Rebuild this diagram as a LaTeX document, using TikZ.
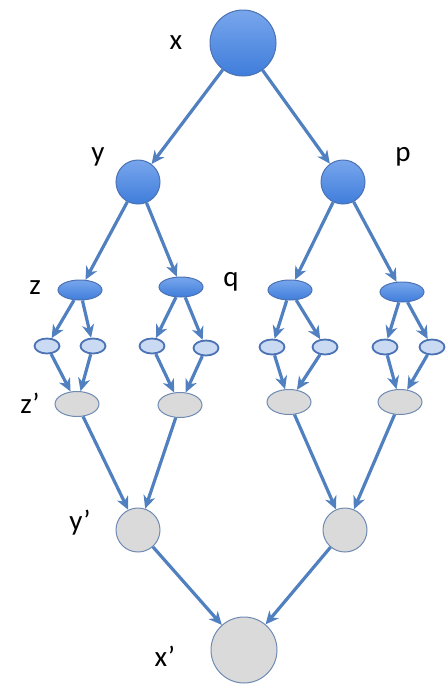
\documentclass[tikz,border=0pt]{standalone}
\usepackage{fontspec}
\setmainfont{Carlito}
\usepackage{xcolor}
\usetikzlibrary{arrows.meta,shapes.geometric}
\definecolor{blueA}{HTML}{3F7DDB}
\definecolor{blueB}{HTML}{78A6EC}
\definecolor{rimblue}{HTML}{4A72B4}
\definecolor{edgeblue}{HTML}{5080C0}
\definecolor{paleblue}{HTML}{C9DAF2}
\definecolor{greyfill}{HTML}{DADADA}
\definecolor{greyrim}{HTML}{6F8BB3}

\begin{document}
\begin{tikzpicture}[x=1pt,y=-1pt,>={Stealth[length=13pt,width=12pt,inset=4pt]},
every node/.style={font=\fontsize{29}{32}\selectfont},
bluenode/.style={draw=rimblue,line width=1pt,top color=blueB,bottom color=blueA},
bigc/.style={bluenode,circle,minimum size=66pt,inner sep=0pt},
midc/.style={bluenode,circle,minimum size=44pt,inner sep=0pt},
blueell/.style={bluenode,ellipse,minimum width=44pt,minimum height=20pt,inner sep=0pt},
smallell/.style={ellipse,draw=rimblue,line width=1.8pt,fill=paleblue,minimum width=25pt,minimum height=15pt,inner sep=0pt},
greyell/.style={ellipse,draw=greyrim,line width=1pt,fill=greyfill,minimum width=44pt,minimum height=25pt,inner sep=0pt},
greyc/.style={circle,draw=greyrim,line width=1pt,fill=greyfill,inner sep=0pt},
link/.style={->,draw=edgeblue,line width=3.2pt}]
\useasboundingbox (0,0) rectangle (447,691);
% top
\node[bigc] (x) at (243,43) {};
\node[midc] (y) at (138,182) {};
\node[midc] (p) at (343,182) {};
% middle ellipses
\node[blueell] (z) at (80,290) {};
\node[blueell] (q) at (181,287) {};
\node[blueell] (r) at (290,290) {};
\node[blueell] (s) at (402,292) {};
\node[smallell] (za) at (47,346) {};
\node[smallell] (zb) at (93,346) {};
\node[smallell] (qa) at (152,346) {};
\node[smallell] (qb) at (206,348) {};
\node[smallell] (ra) at (272,347) {};
\node[smallell] (rb) at (325,347) {};
\node[smallell] (sa) at (385,347) {};
\node[smallell] (sb) at (432,347) {};
\node[greyell] (zp) at (77,404) {};
\node[greyell] (qp) at (180,405) {};
\node[greyell] (rp) at (289,402) {};
\node[greyell] (sp) at (400,402) {};
% bottom
\node[greyc,minimum size=44pt] (yp) at (138,530) {};
\node[greyc,minimum size=44pt] (pp) at (345,530) {};
\node[greyc,minimum size=66pt] (xp) at (244,650) {};
% labels
\node (lx) at (176,43) {x};
\node (ly) at (98,157) {y};
\node (lp) at (403,157) {p};
\node (lz) at (35,288) {z};
\node (lq) at (231,282) {q};
\node (lzp) at (30,403) {z’};
\node (lyp) at (80,523) {y’};
\node (lxp) at (165,656) {x’};
% connectors
\draw[link] (x) -- (y);
\draw[link] (x) -- (p);
\draw[link] (y) -- (z);
\draw[link] (y) -- (q);
\draw[link] (p) -- (r);
\draw[link] (p) -- (s);
\foreach \a in {z,q,r,s} {
  \draw[link] (\a) -- (\a a);
  \draw[link] (\a) -- (\a b);
  \draw[link] (\a a) -- (\a p);
  \draw[link] (\a b) -- (\a p);
}
\draw[link] (zp) -- (yp);
\draw[link] (qp) -- (yp);
\draw[link] (rp) -- (pp);
\draw[link] (sp) -- (pp);
\draw[link] (yp) -- (xp);
\draw[link] (pp) -- (xp);
\end{tikzpicture}
\end{document}
